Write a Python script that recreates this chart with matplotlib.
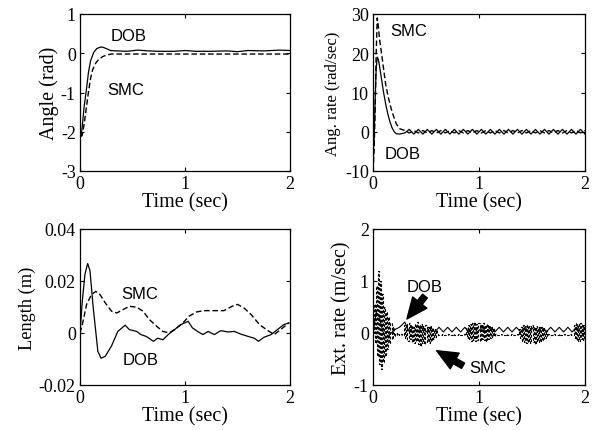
import numpy as np
import matplotlib
matplotlib.use("Agg")
import matplotlib.pyplot as plt

plt.rcParams['axes.unicode_minus'] = False
SERIF = 'Liberation Serif'
SANS = 'Liberation Sans'

# ---------------- Angle (rad) ----------------
t_angle_dob = [0, 0.01, 0.02, 0.04, 0.06, 0.08, 0.10, 0.13, 0.16, 0.20, 0.22, 0.25, 0.29, 0.35,
               0.45, 0.55, 0.65, 0.75, 0.9, 1.0, 1.1, 1.25, 1.4, 1.5, 1.6, 1.75, 1.9, 2.0]
angle_dob = [-2.1, -2.12, -1.9, -1.35, -0.95, -0.5, -0.2, 0.02, 0.12, 0.16, 0.15, 0.12, 0.07, 0.06,
             0.05, 0.08, 0.06, 0.05, 0.05, 0.07, 0.05, 0.05, 0.06, 0.04, 0.07, 0.06, 0.08, 0.07]
t_angle_smc = [0, 0.02, 0.04, 0.06, 0.08, 0.10, 0.12, 0.15, 0.18, 0.22, 0.26, 0.30, 0.5, 1.0, 1.5, 2.0]
angle_smc = [-2.1, -2.1, -1.8, -1.4, -1.0, -0.65, -0.42, -0.25, -0.15, -0.08, -0.04, -0.02,
             -0.02, -0.02, -0.02, -0.02]

# ---------------- Ang. rate (rad/sec) ----------------
t_rate_early = [0, 0.01, 0.02, 0.03, 0.04, 0.05, 0.06, 0.08, 0.10, 0.12, 0.14, 0.16, 0.18,
                0.20, 0.22, 0.25]
rate_smc_early = [-10, -5, 5, 20, 29, 27, 24, 20, 16, 12, 9.3, 7, 5.1, 3.5, 2.0, 0.8]
rate_dob_early = [-6, -2, 8, 16, 19, 18.5, 17, 13.5, 10, 7, 4.5, 2.5, 1.0, 0.0, -0.5, -0.6]
t_rate_tail = np.linspace(0.3, 2.0, 41)
rate_smc_tail = [0.3, -0.3, 0.3, -0.3, 0.3, -0.3, 0.3, -0.3, 0.3, -0.3, 0.3, -0.3, 0.3, -0.3,
                 0.3, -0.3, 0.3, -0.3, 0.3, -0.3, 0.3, -0.3, 0.3, -0.3, 0.3, -0.3, 0.3, -0.3,
                 0.3, -0.3, 0.3, -0.3, 0.3, -0.3, 0.3, -0.3, 0.3, -0.3, 0.3, -0.3, 0.3]
rate_dob_tail = [-0.3, 0.6, -0.6, 0.6, -0.6, 0.6, -0.6, 0.6, -0.6, 0.6, -0.6, 0.6, -0.6, 0.6,
                 -0.6, 0.6, -0.6, 0.6, -0.6, 0.6, -0.6, 0.6, -0.6, 0.6, -0.6, 0.6, -0.6, 0.6,
                 -0.6, 0.6, -0.6, 0.6, -0.6, 0.6, -0.6, 0.6, -0.6, 0.6, -0.6, 0.6, -0.6]

# ---------------- Length (m) ----------------
t_len_dob = [0, 0.022, 0.047, 0.073, 0.095, 0.126, 0.15, 0.17, 0.20, 0.24, 0.30, 0.36, 0.43,
             0.47, 0.54, 0.58, 0.63, 0.70, 0.74, 0.79, 0.84, 0.90, 0.96, 1.03, 1.07, 1.12,
             1.17, 1.22, 1.28, 1.34, 1.41, 1.47, 1.53, 1.60, 1.66, 1.70, 1.75, 1.82, 1.88,
             1.94, 1.99]
len_dob = [0, 0.0123, 0.0226, 0.0267, 0.024, 0.0097, 0.0006, -0.007, -0.0097, -0.009, -0.005,
           0.0006, 0.003, 0.0013, 0.0006, -0.0006, -0.0013, -0.0032, -0.002, -0.0026, -0.0006,
           0.0013, 0.0032, 0.0045, 0.002, 0.0006, -0.0006, 0.0006, -0.0006, 0.0009, 0.0004,
           0.0006, -0.0004, -0.0013, -0.002, -0.0032, -0.0017, -0.0006, 0.0013, 0.0032, 0.0039]
t_len_smc = [0, 0.022, 0.063, 0.11, 0.15, 0.19, 0.24, 0.30, 0.35, 0.41, 0.47, 0.54, 0.60, 0.66,
             0.73, 0.79, 0.85, 0.92, 0.98, 1.04, 1.11, 1.18, 1.28, 1.37, 1.45, 1.50, 1.56,
             1.63, 1.71, 1.79, 1.85, 1.91, 1.99]
len_smc = [0, 0.0032, 0.011, 0.0148, 0.016, 0.0148, 0.0116, 0.0084, 0.0077, 0.009, 0.0103,
           0.0099, 0.0084, 0.0052, 0.0026, 0.0006, 0.0, 0.0019, 0.0039, 0.0065, 0.0081, 0.0086,
           0.0086, 0.0086, 0.0103, 0.011, 0.0097, 0.0071, 0.0032, 0.0009, -0.0006, 0.0013, 0.0039]

# ---------------- Ext. rate (m/sec) ----------------
t_ext_smc = np.linspace(0, 2, 201)
ext_smc_a = [0.0, 0.55, -0.2, 0.9, -0.45, 1.2, -0.6, 1.0, -0.7, 0.75, -0.55, 0.5, -0.45, 0.4,
             -0.3, 0.3, -0.2, 0.2, -0.12, 0.12, -0.05]
ext_smc_b = [-0.02, 0.0, -0.03, -0.02, -0.04, -0.03, -0.02, -0.03, -0.03]
ext_smc_c = [0.15, -0.1, 0.18, -0.15, 0.2, -0.12, 0.15, -0.18, 0.12, -0.2, 0.17, -0.15, 0.22,
             -0.22, 0.15, -0.25, 0.18, -0.2, 0.13, -0.22, 0.16, -0.18, 0.12, -0.2, 0.14, -0.15,
             0.1, -0.12, 0.08, -0.08, 0.05]
ext_smc_d = [-0.02, -0.03, -0.03, -0.04, -0.03, -0.02, -0.03, -0.03, -0.04, -0.03, -0.02, -0.03,
             -0.03, -0.04, -0.03, -0.02, -0.03, -0.03, -0.04, -0.03, -0.02, -0.03, -0.03, -0.04,
             -0.03, -0.02, -0.03]
ext_smc_e = [0.1, -0.1, 0.15, -0.12, 0.18, -0.15, 0.2, -0.14, 0.22, -0.16, 0.18, -0.13, 0.2,
             -0.15, 0.17, -0.12, 0.19, -0.14, 0.15, -0.16, 0.17, -0.12, 0.14, -0.1, 0.12, -0.08,
             0.1, -0.05]
ext_smc_f = [-0.02, -0.03, -0.03, -0.04, -0.03, -0.02, -0.03, -0.03, -0.04, -0.03, -0.02, -0.03,
             -0.03, -0.04, -0.03, -0.02, -0.03, -0.03, -0.04, -0.03, -0.02, -0.03]
ext_smc_g = [0.08, -0.1, 0.12, -0.15, 0.15, -0.18, 0.14, -0.2, 0.16, -0.17, 0.13, -0.2, 0.15,
             -0.18, 0.12, -0.22, 0.14, -0.16, 0.11, -0.18, 0.12, -0.15, 0.1, -0.14, 0.09, -0.1,
             0.06, -0.06]
ext_smc_h = [-0.02, -0.03, -0.03, -0.04, -0.03, -0.02, -0.03, -0.03, -0.04, -0.03, -0.02, -0.03,
             -0.03, -0.04, -0.03, -0.02, -0.03, -0.03, -0.04, -0.03, -0.02, -0.03, -0.03, -0.04]
ext_smc_i = [0.15, -0.12, 0.2, -0.15, 0.18, -0.16, 0.2, -0.12, 0.17, -0.14, 0.15]
ext_smc = (ext_smc_a + ext_smc_b + ext_smc_c + ext_smc_d + ext_smc_e + ext_smc_f + ext_smc_g
           + ext_smc_h + ext_smc_i)

t_ext_dob_early = [0, 0.03, 0.06, 0.09, 0.12, 0.15, 0.20, 0.25, 0.30]
ext_dob_early = [0, 0.4, 0.3, 0.05, -0.1, -0.05, 0.06, 0.11, 0.21]
t_ext_dob_tail = np.linspace(0.34, 2.0, 42)
ext_dob_tail = [0.03, 0.11, 0.02, 0.11, 0.02, 0.11, 0.02, 0.11, 0.02, 0.11, 0.02, 0.11, 0.02,
                0.11, 0.02, 0.11, 0.02, 0.11, 0.02, 0.11, 0.02, 0.11, 0.02, 0.11, 0.02, 0.11,
                0.02, 0.11, 0.02, 0.11, 0.02, 0.11, 0.02, 0.11, 0.02, 0.11, 0.02, 0.11, 0.02,
                0.11, 0.02, 0.11]

x_ticks = [0, 1, 2]
x_ticklabels = ['0', '1', '2']

fig = plt.figure(figsize=(5.97, 4.31), dpi=100)
W, H = 597, 431


def make_ax(l, r, t, b):
    return fig.add_axes([l / W, 1 - b / H, (r - l) / W, (b - t) / H])


DASH = (0, (4, 2))
TICKFS = 13
XLABFS = 14.5
ANNFS = 12


def style(ax, yticks, ylabels, ylim, ylabel, ylabfs, ylabpad):
    ax.set_xlim(0, 2)
    ax.set_ylim(*ylim)
    ax.set_xticks(x_ticks)
    ax.set_xticklabels(x_ticklabels, family=SERIF, fontsize=TICKFS)
    ax.set_yticks(yticks)
    ax.set_yticklabels(ylabels, family=SERIF, fontsize=TICKFS)
    ax.tick_params(direction='in', length=3, width=0.8, top=True, right=True, pad=3)
    ax.set_xlabel('Time (sec)', family=SERIF, fontsize=XLABFS, labelpad=0)
    ax.set_ylabel(ylabel, family=SERIF, fontsize=ylabfs, labelpad=ylabpad)
    for s in ax.spines.values():
        s.set_linewidth(0.9)


arrow = dict(arrowstyle='simple,head_length=0.75,head_width=0.65,tail_width=0.22',
             color='black', shrinkA=0, shrinkB=0, mutation_scale=20)

# Top-left
ax1 = make_ax(80, 290, 15, 172)
ax1.plot(t_angle_dob, angle_dob, color='black', lw=0.9)
ax1.plot(t_angle_smc, angle_smc, color='black', lw=1.0, linestyle=DASH)
style(ax1, [-3, -2, -1, 0, 1], ['-3', '-2', '-1', '0', '1'], (-3, 1), 'Angle (rad)', 14.5, 1)
ax1.text(0.46, 0.45, 'DOB', family=SANS, fontsize=ANNFS, ha='center', va='center')
ax1.text(0.44, -0.92, 'SMC', family=SANS, fontsize=ANNFS, ha='center', va='center')

# Top-right
ax2 = make_ax(373, 585, 15, 172)
ax2.plot(t_rate_early + list(t_rate_tail), rate_dob_early + rate_dob_tail, color='black', lw=0.9)
ax2.plot(t_rate_early + list(t_rate_tail), rate_smc_early + rate_smc_tail, color='black', lw=1.0,
         linestyle=DASH)
style(ax2, [-10, 0, 10, 20, 30], ['-10', '0', '10', '20', '30'], (-10, 30),
      'Ang. rate (rad/sec)', 12, 3)
ax2.text(0.34, 25.8, 'SMC', family=SANS, fontsize=ANNFS, ha='center', va='center')
ax2.text(0.28, -5.6, 'DOB', family=SANS, fontsize=ANNFS, ha='center', va='center')

# Bottom-left
ax3 = make_ax(80, 290, 230, 386)
ax3.plot(t_len_dob, len_dob, color='black', lw=0.9)
ax3.plot(t_len_smc, len_smc, color='black', lw=1.0, linestyle=DASH)
style(ax3, [-0.02, 0, 0.02, 0.04], ['-0.02', '0', '0.02', '0.04'], (-0.02, 0.04),
      'Length (m)', 13.2, 2)
ax3.text(0.57, 0.0152, 'SMC', family=SANS, fontsize=ANNFS, ha='center', va='center')
ax3.text(0.58, -0.0103, 'DOB', family=SANS, fontsize=ANNFS, ha='center', va='center')

# Bottom-right
ax4 = make_ax(373, 585, 230, 386)
ax4.plot(t_ext_smc, ext_smc, color='black', lw=0.8, linestyle=(0, (2.5, 1.5)),
         drawstyle='steps-mid')
ax4.plot(t_ext_dob_early + list(t_ext_dob_tail), ext_dob_early + ext_dob_tail, color='black', lw=0.8)
style(ax4, [-1, 0, 1, 2], ['-1', '0', '1', '2'], (-1, 2), 'Ext. rate (m/sec)', 14.5, 2)
ax4.annotate('', xy=(0.32, 0.27), xytext=(0.49, 0.71), arrowprops=arrow)
ax4.text(0.49, 0.9, 'DOB', family=SANS, fontsize=ANNFS, ha='center', va='center')
ax4.annotate('', xy=(0.60, -0.34), xytext=(0.85, -0.63), arrowprops=arrow)
ax4.text(1.08, -0.66, 'SMC', family=SANS, fontsize=ANNFS, ha='center', va='center')

fig.savefig('out.png', dpi=100)
